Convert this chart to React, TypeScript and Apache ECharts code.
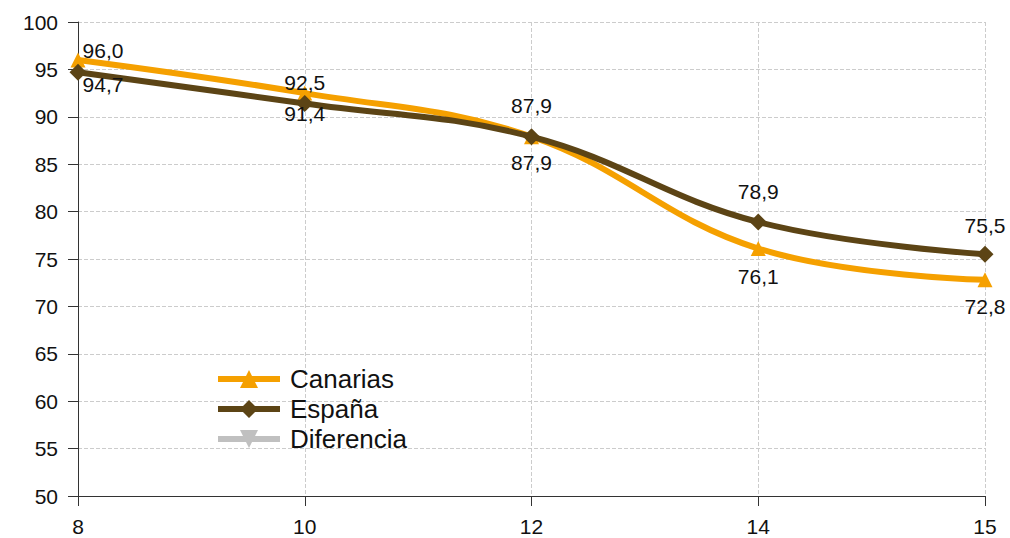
import React, { useEffect, useRef } from "react";
import * as echarts from "echarts";

const categories = ["8", "10", "12", "14", "15"];
const canarias = [96.0, 92.5, 87.9, 76.1, 72.8];
const espana = [94.7, 91.4, 87.9, 78.9, 75.5];
const diferencia: number[] = [];
const canariasLabelPos = ["top", "top", "top", "bottom", "bottom"];
const espanaLabelPos = ["bottom", "bottom", "bottom", "top", "top"];
const canariasLabelOffsetY = [9, 7, -13, 10, 9];
const espanaLabelOffsetY = [-7, -9, 7, -12, -10];

const FONT = "'Liberation Sans', Arial, sans-serif";
const DOWN_TRI = "path://M0,0L10,0L5,9Z";

const ICON_TRI_UP = "path://M0,6L62,6L62,12L0,12Z M31,0L40,18L22,18Z";
const ICON_DIAMOND = "path://M0,6L62,6L62,12L0,12Z M31,0L40,9L31,18L22,9Z";
const ICON_TRI_DOWN = "path://M0,6L62,6L62,12L0,12Z M22,0L40,0L31,18Z";

function fmt(v: number) {
  return v.toFixed(1).replace(".", ",");
}

export default function App() {
  const ref = useRef<HTMLDivElement>(null);
  useEffect(() => {
    const chart = echarts.init(ref.current!, null, { renderer: "svg" });
    const mkData = (vals: number[], pos: string[], offY: number[]) =>
      vals.map((v, i) => ({
        value: v,
        label: {
          position: pos[i],
          distance: 0,
          offset: [i === 0 ? 25 : 0, offY[i]],
        },
      }));
    const labelCfg = {
      show: true,
      fontSize: 21,
      color: "#111",
      fontFamily: FONT,
      formatter: (p: any) => fmt(p.value),
    };
    chart.setOption({
      animation: false,
      textStyle: { fontFamily: FONT },
      grid: { left: 78, right: 25, top: 22, bottom: 42 },
      legend: {
        orient: "vertical",
        left: 213,
        top: 361,
        itemWidth: 64,
        itemHeight: 18,
        itemGap: 4,
        textStyle: { fontSize: 26, color: "#111", fontFamily: FONT, padding: [0, 0, 0, 4] },
        data: [
          { name: "Canarias", icon: ICON_TRI_UP, itemStyle: { color: "#f5a000" } },
          { name: "España", icon: ICON_DIAMOND, itemStyle: { color: "#5c4415" } },
          { name: "Diferencia", icon: ICON_TRI_DOWN, itemStyle: { color: "#c0c0c0" } },
        ],
      },
      xAxis: {
        type: "category",
        data: categories,
        boundaryGap: false,
        axisLine: { lineStyle: { color: "#333", width: 1 } },
        axisTick: { show: true, length: 10, lineStyle: { color: "#333" } },
        axisLabel: { fontSize: 21, color: "#111", margin: 20 },
        splitLine: { show: true, lineStyle: { type: "dashed", color: "#cccccc" } },
      },
      yAxis: {
        type: "value",
        min: 50,
        max: 100,
        interval: 5,
        axisLine: { show: true, lineStyle: { color: "#333", width: 1 } },
        axisTick: { show: true, length: 10, lineStyle: { color: "#333" } },
        axisLabel: { fontSize: 21, color: "#111", margin: 20 },
        splitLine: { show: true, lineStyle: { type: "dashed", color: "#cccccc" } },
      },
      series: [
        {
          name: "Canarias",
          type: "line",
          smooth: 0.4,
          data: mkData(canarias, canariasLabelPos, canariasLabelOffsetY),
          symbol: "triangle",
          symbolSize: 15,
          itemStyle: { color: "#f5a000" },
          lineStyle: { width: 6, color: "#f5a000" },
          label: labelCfg,
          z: 2,
        },
        {
          name: "España",
          type: "line",
          smooth: 0.4,
          data: mkData(espana, espanaLabelPos, espanaLabelOffsetY),
          symbol: "diamond",
          symbolSize: 17,
          itemStyle: { color: "#5c4415" },
          lineStyle: { width: 6, color: "#5c4415" },
          label: labelCfg,
          z: 3,
        },
        {
          name: "Diferencia",
          type: "line",
          data: diferencia,
          symbol: DOWN_TRI,
          symbolSize: 14,
          itemStyle: { color: "#c0c0c0" },
          lineStyle: { width: 6, color: "#c0c0c0" },
        },
      ],
    });
    return () => chart.dispose();
  }, []);
  return (
    <div
      ref={ref}
      style={{ position: "fixed", left: 0, top: 0, width: 1010, height: 538, background: "#fff" }}
    />
  );
}
